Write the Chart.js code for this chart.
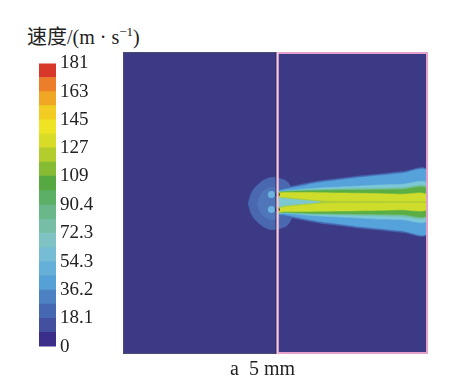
<!DOCTYPE html>
<html>
<head>
<meta charset="utf-8">
<script src="https://cdn.jsdelivr.net/npm/chart.js"></script>
<style>
  body { margin: 0; background: #fff; width: 454px; height: 383px; position: relative; overflow: hidden; }
  #title { position: absolute; left: 27px; top: 21px; font-size: 20px; font-family: "Liberation Serif", "Noto Sans CJK SC"; color: #222; white-space: pre; }
  #title sup { font-size: 13px; }
  #caption { position: absolute; left: 230px; top: 357px; font-size: 20px; font-family: "Liberation Serif"; color: #222; white-space: pre; }
  #bar { position: absolute; left: 39px; top: 48px; }
  #field { position: absolute; left: 123px; top: 52px; }
</style>
</head>
<body>
<div id="title">速度/(m · s<sup>−1</sup>)</div>
<canvas id="bar" width="100" height="314"></canvas>
<canvas id="field" width="305" height="302"></canvas>
<div id="caption">a  5 mm</div>
<script>
// colour scale (m/s)
const levels = [0, 9.05, 18.1, 27.15, 36.2, 45.25, 54.3, 63.3, 72.3, 81.35, 90.4, 99.7, 109, 118, 127, 136, 145, 154, 163, 172, 181];
const levelColors = ['#3b2d8a', '#43509f', '#4668b2', '#4c82c4', '#55a0d6', '#64b0d8', '#75bcd4', '#7ec2c4',
  '#76bea6', '#6ab88a', '#5cb066', '#56a840', '#86bb34', '#b2cd2c', '#d8dc26', '#efe424',
  '#f2cc20', '#f0a824', '#ec7e2a', '#d8382a'];
const tickValues = [0, 18.1, 36.2, 54.3, 72.3, 90.4, 109, 127, 145, 163, 181];
const tickLabels = ['0', '18.1', '36.2', '54.3', '72.3', '90.4', '109', '127', '145', '163', '181'];

// domain (mm)
const domainX = [0, 30];
const domainY = [-15.1, 14.9];
const wallX = 15.2;

// jet contours: half widths (mm) at stations downstream of the orifice
const jetX = [15.2, 16.0, 17.0, 18.0, 19.4, 21.4, 23.4, 25.4, 27.3, 30.0];
const hwEdge   = [1.25, 1.45, 1.65, 1.85, 2.1, 2.35, 2.6, 2.8, 3.0, 3.1];
const hwLight  = [1.1, 1.3, 1.5, 1.7, 1.95, 2.2, 2.45, 2.65, 2.85, 3.0];
const hwCyan   = [1.0, 1.1, 1.2, 1.3, 1.4, 1.5, 1.6, 1.7, 1.75, 1.8];
const hwTeal   = [0.98, 1.07, 1.14, 1.2, 1.25, 1.3, 1.34, 1.38, 1.42, 1.45];
const hwGreen  = [0.96, 1.03, 1.08, 1.12, 1.15, 1.18, 1.2, 1.22, 1.25, 1.28];
const hwYellow = [0.9, 0.95, 0.95, 0.95, 0.93, 0.9, 0.87, 0.83, 0.78, 0.72];
const hwMidGreen = [0.5, 0.45, 0.35, 0.25, 0.12, 0.06, 0.05, 0.04, 0.03, 0.02];
const wedgeX = [15.2, 16.0, 17.0, 18.0, 19.4];
const hwWedge = [0.45, 0.35, 0.25, 0.15, 0.02];

// upstream low-speed bubble
const bubbleX = [12.3, 12.7, 13.3, 14.0, 14.7, 15.4, 16.3, 17.1];
const bubbleHH = [0, 1.2, 1.9, 2.4, 2.6, 2.5, 2.0, 0];
const innerX = [13.2, 13.6, 14.2, 14.8, 15.4, 15.9];
const innerHH = [0, 1.0, 1.5, 1.6, 1.4, 0];

const holeY = [0.75, -0.75];
const spotX = 14.6;

function band(xs, hw, yc) {
  const up = xs.map((x, i) => ({ x: x, y: yc + hw[i] }));
  const lo = xs.map((x, i) => ({ x: x, y: yc - hw[i] })).reverse();
  return up.concat(lo, [up[0]]);
}

function shape(data, color, order) {
  return { data: data, showLine: true, fill: 'shape', backgroundColor: color, borderColor: color,
    borderWidth: 0.5, pointRadius: 0, tension: 0.4, order: order };
}

// colour bar
new Chart(document.getElementById('bar'), {
  type: 'bar',
  data: {
    labels: ['v'],
    datasets: levelColors.map((c, i) => ({
      data: [[levels[i], levels[i + 1]]],
      backgroundColor: c,
      borderWidth: 0,
      grouped: false,
      barPercentage: 1,
      categoryPercentage: 1
    }))
  },
  options: {
    responsive: false,
    animation: false,
    layout: { padding: 0, autoPadding: false },
    plugins: { legend: { display: false }, tooltip: { enabled: false } },
    scales: {
      x: { display: false },
      y: {
        position: 'right',
        min: 0, max: 181,
        grid: { display: false, drawTicks: false },
        border: { display: false },
        afterBuildTicks: s => { s.ticks = tickValues.map(v => ({ value: v })); },
        afterFit: s => { s.width = 83; },
        ticks: {
          autoSkip: false,
          padding: 4,
          color: '#222',
          font: { family: 'Liberation Serif', size: 19 },
          callback: (v, i) => tickLabels[i]
        }
      }
    }
  }
});

const frame = {
  id: 'frame',
  beforeDraw(chart) {
    const { ctx, chartArea: a } = chart;
    ctx.save();
    ctx.fillStyle = '#3c3a84';
    ctx.fillRect(a.left, a.top, a.right - a.left, a.bottom - a.top);
    ctx.restore();
  },
  afterDatasetsDraw(chart) {
    const { ctx, chartArea: a, scales } = chart;
    const wx = scales.x.getPixelForValue(wallX);
    ctx.save();
    ctx.strokeStyle = '#4e4b70';
    ctx.lineWidth = 1;
    ctx.strokeRect(a.left + 0.5, a.top + 0.5, wx - a.left - 1, a.bottom - a.top - 1);
    ctx.strokeStyle = '#e6a0cc';
    ctx.lineWidth = 2;
    ctx.strokeRect(wx, a.top + 1, a.right - wx - 1, a.bottom - a.top - 2);
    ctx.strokeStyle = '#2a2850';
    ctx.lineWidth = 1;
    ctx.beginPath(); ctx.moveTo(wx - 1.5, a.top); ctx.lineTo(wx - 1.5, a.bottom); ctx.stroke();
    ctx.strokeStyle = '#f4c8e0';
    ctx.lineWidth = 2;
    ctx.beginPath(); ctx.moveTo(wx, a.top); ctx.lineTo(wx, a.bottom); ctx.stroke();
    ctx.restore();
  }
};

new Chart(document.getElementById('field'), {
  type: 'scatter',
  data: {
    datasets: [
      shape(band(bubbleX, bubbleHH, -0.15), '#4a68b0', 20),
      shape(band(innerX, innerHH, -0.15), '#5076ba', 19),
      { data: holeY.map(y => ({ x: spotX, y: y })), pointRadius: 3.5, pointBackgroundColor: '#6cb2e0',
        pointBorderWidth: 0, order: 18 },
      shape(band(jetX, hwEdge, 0), '#4669b2', 10),
      shape(band(jetX, hwLight, 0), '#56a2da', 9),
      shape(band(jetX, hwCyan, 0), '#7cc8d8', 8),
      shape(band(jetX, hwTeal, 0), '#74c0a0', 7),
      shape(band(jetX, hwGreen, 0), '#5aae44', 6),
      shape(band(jetX, hwYellow, 0), '#cedd2c', 5),
      shape(band(jetX, hwMidGreen, 0), '#a8cc36', 4),
      shape(band(wedgeX, hwWedge, 0), '#7cc8d0', 3),
      { data: holeY.map(y => ({ x: wallX, y: y })), pointRadius: 2.2, pointBackgroundColor: '#111',
        pointBorderWidth: 0, order: 0 }
    ]
  },
  options: {
    responsive: false,
    animation: false,
    layout: { padding: 0, autoPadding: false },
    plugins: { legend: { display: false }, tooltip: { enabled: false } },
    scales: {
      x: { type: 'linear', display: false, min: domainX[0], max: domainX[1] },
      y: { type: 'linear', display: false, min: domainY[0], max: domainY[1] }
    }
  },
  plugins: [frame]
});
</script>
</body>
</html>
